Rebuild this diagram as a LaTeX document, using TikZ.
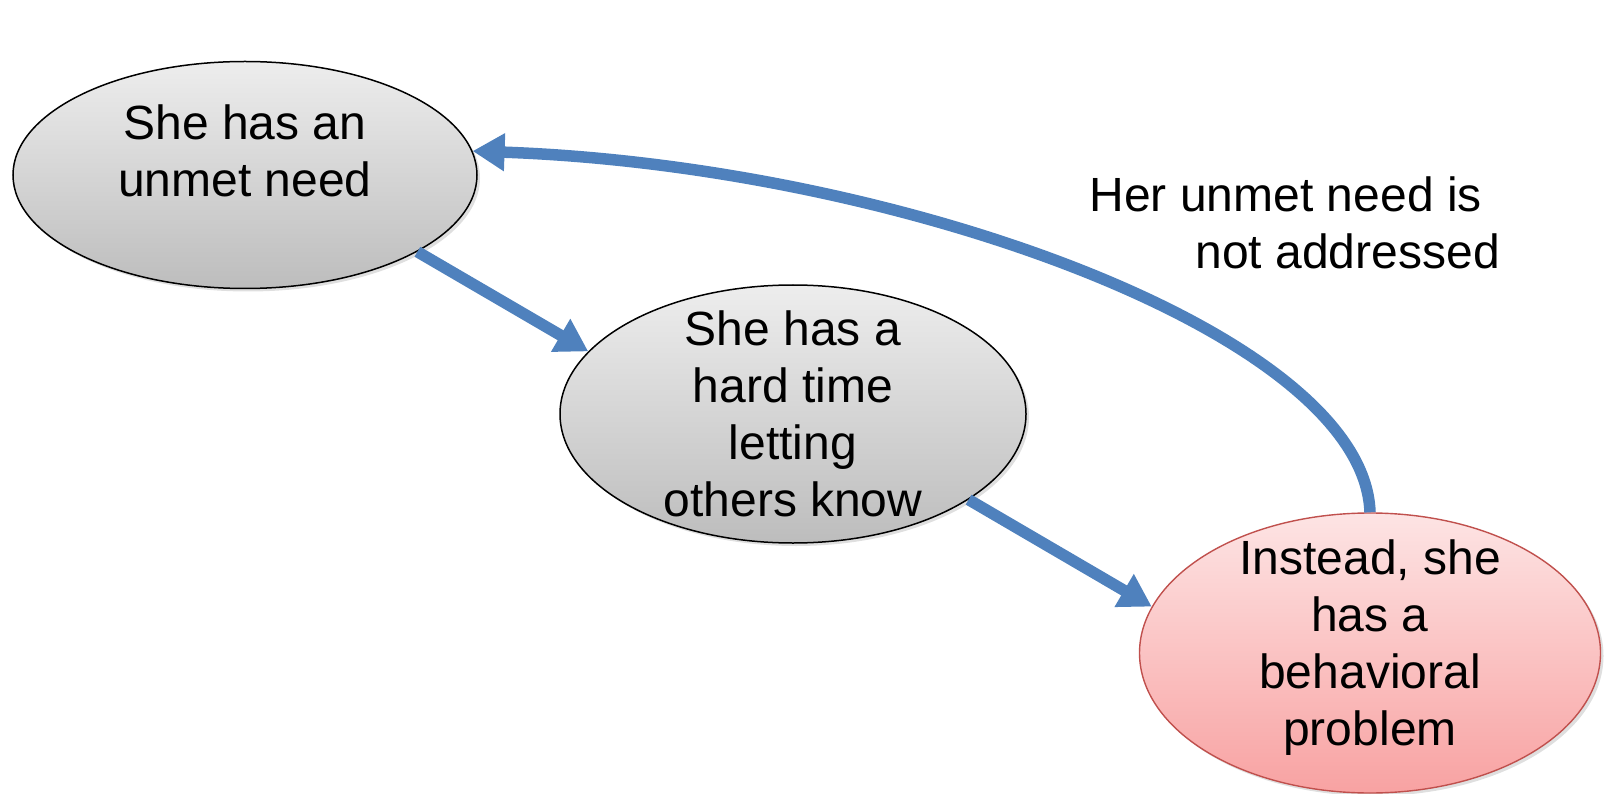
\documentclass[tikz,border=0pt]{standalone}
\usepackage{fontspec}
\setmainfont{Liberation Sans}
\usetikzlibrary{shapes.geometric,arrows.meta,shadows}
\definecolor{loopblue}{RGB}{79,129,189}
\definecolor{loopred}{RGB}{192,80,77}
\definecolor{pinktop}{RGB}{253,228,228}
\definecolor{pinkbottom}{RGB}{248,162,162}
\tikzset{
  bubble/.style={ellipse, draw=black, line width=1.5pt, inner sep=0pt,
    top color=black!7, bottom color=black!26,
    drop shadow={shadow xshift=3pt, shadow yshift=-3pt, opacity=0.25}},
  redbubble/.style={bubble, draw=loopred, line width=1.4pt,
    top color=pinktop, bottom color=pinkbottom},
  bubbletext/.style={align=center, inner sep=0pt, font=\fontsize{48}{57}\selectfont},
  flow/.style={draw=loopblue, line width=11.5pt, -{Triangle[length=32pt,width=36pt]}}
}

\begin{document}
\begin{tikzpicture}[x=1pt, y=-1pt]
\useasboundingbox (0,0) rectangle (1606,794);

% The three states
\node[bubble, minimum width=464pt, minimum height=227pt] (need) at (245,175) {};
\node[bubble, minimum width=466pt, minimum height=258pt] (hard) at (793,414) {};
\node[redbubble, minimum width=461pt, minimum height=280pt] (problem) at (1370,653) {};

\node[bubbletext, yshift=24pt] (needtxt) at (need) {She has an\\unmet need};
\node[bubbletext] (hardtxt) at (hard) {She has a\\hard time\\letting\\others know};
\node[bubbletext, yshift=5pt] (problemtxt) at (problem) {Instead, she\\has a\\behavioral\\problem};

% Feedback label
\node[bubbletext, align=right, anchor=north east] (looptxt) at (1500,177)
  {Her unmet need is\hspace*{18pt}\\not addressed};

% Connections
\draw[flow] (need.-24) -- (hard.163);
\draw[flow] (hard.-26) -- (problem.168);
\draw[flow] (problem.north) .. controls (1364,335) and (900,166) .. (need.6);
\end{tikzpicture}
\end{document}
